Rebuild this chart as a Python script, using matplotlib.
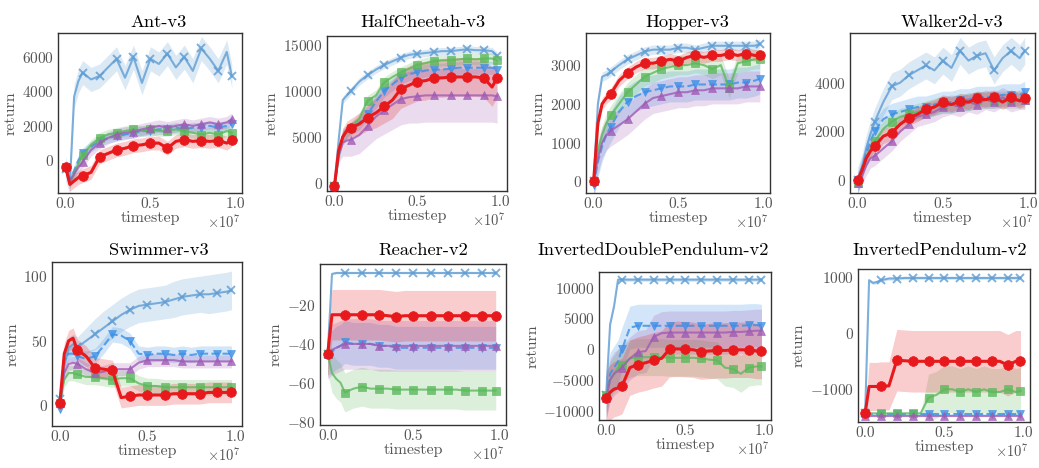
import numpy as np
import matplotlib
matplotlib.use("Agg")
import matplotlib.pyplot as plt
from matplotlib.ticker import FuncFormatter

plt.rcParams['font.family'] = 'serif'
plt.rcParams['font.serif'] = ['cmr10']
plt.rcParams['mathtext.fontset'] = 'cm'
plt.rcParams['axes.formatter.use_mathtext'] = True

# common x grid (timesteps)
timestep = np.array([0, 0.025, 0.05, 0.075, 0.1, 0.15, 0.2, 0.25, 0.3, 0.35, 0.4, 0.45,
                     0.5, 0.55, 0.6, 0.65, 0.7, 0.75, 0.8, 0.85, 0.9, 0.95, 0.98]) * 1e7
marker_idx = [0, 4, 6, 8, 10, 12, 14, 16, 18, 20, 22]

envs = ["Ant-v3", "HalfCheetah-v3", "Hopper-v3", "Walker2d-v3",
        "Swimmer-v3", "Reacher-v2", "InvertedDoublePendulum-v2", "InvertedPendulum-v2"]

# series order: blue (x), light blue (v), green (s), purple (^), red (o)
ant_mean = [
    [-500, -1300, 3700, 4600, 5100, 4700, 4900, 5400, 5900, 4800, 6000, 4500, 5900, 5600, 6200, 5400, 6000, 5200, 6500, 5900, 5200, 6300, 4900],
    [-400, -1200, -600, 0, 400, 800, 1100, 1300, 1400, 1500, 1600, 1700, 1700, 1800, 1800, 1900, 1800, 1900, 1900, 2000, 1900, 2000, 2100],
    [-400, -1300, -800, -200, 300, 900, 1300, 1500, 1600, 1700, 1800, 1700, 1800, 1700, 1700, 1800, 1700, 1600, 1500, 1600, 1500, 1700, 1600],
    [-400, -1200, -800, -400, -100, 600, 1000, 1300, 1500, 1600, 1650, 1800, 1900, 2000, 1900, 2000, 2100, 2000, 2100, 2200, 2100, 2200, 2400],
    [-400, -1400, -1200, -1000, -900, -700, 200, 400, 600, 700, 850, 900, 1000, 1000, 700, 1100, 1200, 1100, 1150, 1100, 1150, 1000, 1200],
]
ant_sd = [700, 300, 300, 350, 400]

hc_mean = [
    [-300, 4600, 9000, 9500, 10000, 11000, 11700, 12300, 12800, 13200, 13600, 13900, 14000, 14100, 14200, 14300, 14300, 14400, 14500, 14400, 14400, 14300, 13800],
    [-300, 3000, 5000, 5500, 5900, 6500, 7500, 8800, 10000, 10700, 11400, 11800, 12000, 12200, 12300, 12300, 12400, 12500, 12500, 12500, 12500, 12500, 12300],
    [-300, 3000, 5000, 5600, 6000, 7000, 8900, 9500, 10900, 11500, 12000, 12400, 12800, 13000, 13200, 13300, 13300, 13400, 13500, 13400, 13500, 13500, 13300],
    [-300, 3000, 4400, 4600, 4700, 5200, 6200, 7200, 7900, 8500, 9100, 9300, 9400, 9500, 9500, 9500, 9500, 9500, 9500, 9500, 9500, 9500, 9400],
    [-300, 3500, 5000, 5700, 6000, 6400, 7100, 7600, 8300, 9000, 10200, 10600, 11000, 11100, 11400, 11400, 11500, 11500, 11500, 11500, 11400, 10400, 11400],
]
hc_sd = [400, 700, 600,
         [0, 800, 1500, 1700, 1800, 2000, 2200, 2400, 2600, 2700, 2800, 2800, 2900, 2900, 2900, 2900, 2900, 2900, 2900, 2900, 2900, 2900, 2900],
         [0, 600, 900, 1000, 1000, 1200, 1400, 1600, 1800, 2000, 2100, 2100, 2100, 2100, 2100, 2100, 2100, 2100, 2100, 2100, 2100, 2100, 2100]]

hopper_mean = [
    [0, 2000, 2700, 2750, 2830, 3000, 3150, 3250, 3350, 3400, 3400, 3400, 3450, 3450, 3400, 3450, 3500, 3500, 3500, 3500, 3500, 3500, 3550],
    [-100, 500, 900, 1200, 1400, 1800, 2050, 2200, 2300, 2350, 2400, 2450, 2450, 2450, 2500, 2500, 2500, 2500, 2500, 2550, 2550, 2600, 2650],
    [0, 800, 1200, 1500, 1700, 2000, 2300, 2500, 2700, 2800, 2900, 2950, 3000, 3000, 3050, 3000, 2900, 3000, 2400, 3050, 3100, 3150, 3150],
    [0, 600, 1000, 1200, 1300, 1450, 1600, 1800, 2000, 2150, 2200, 2250, 2300, 2300, 2350, 2350, 2400, 2400, 2400, 2400, 2450, 2450, 2450],
    [0, 1500, 2000, 2150, 2250, 2600, 2800, 2950, 3050, 3050, 3100, 3150, 3100, 3200, 3250, 3200, 3250, 3250, 3300, 3250, 3300, 3250, 3250],
]
hopper_sd = [120, 400, 250, 400, 150]

walker_mean = [
    [0, 500, 1300, 1900, 2400, 3200, 3850, 4000, 4300, 4500, 4700, 4500, 4900, 4600, 5300, 4900, 5100, 5200, 4500, 5000, 5300, 5000, 5300],
    [-100, 500, 1100, 1600, 2000, 2500, 2700, 2800, 2900, 3000, 3000, 3100, 3200, 3200, 3300, 3300, 3400, 3400, 3400, 3500, 3500, 3500, 3600],
    [-100, 400, 900, 1300, 1600, 2100, 2400, 2600, 2700, 2800, 2900, 3000, 3100, 3100, 3200, 3200, 3300, 3300, 3300, 3300, 3300, 3300, 3300],
    [-100, 200, 600, 900, 1000, 1300, 1600, 2000, 2300, 2600, 2700, 2800, 3000, 3100, 3000, 3200, 3100, 3300, 3200, 3400, 3200, 3300, 3300],
    [0, 400, 900, 1200, 1400, 1800, 1950, 2300, 2550, 2700, 2900, 3000, 3200, 3100, 3250, 3200, 3350, 3300, 3400, 3200, 3400, 3250, 3350],
]
walker_sd = [550, 450, 350, 400, 300]

swimmer_mean = [
    [5, 30, 45, 47, 45, 50, 55, 60, 65, 70, 74, 77, 78, 79, 80, 82, 84, 85, 86, 86, 87, 88, 89],
    [-3, 35, 40, 40, 38, 36, 38, 46, 55, 54, 50, 40, 39, 40, 40, 39, 40, 39, 40, 40, 40, 40, 40],
    [2, 20, 25, 25, 24, 22, 22, 21, 20, 21, 21, 17, 15, 15, 14, 14, 14, 14, 14, 14, 14, 14, 14],
    [2, 25, 32, 33, 32, 28, 25, 26, 28, 28, 28, 33, 35, 35, 35, 35, 34, 34, 34, 34, 34, 34, 34],
    [2, 40, 50, 52, 43, 38, 29, 28, 27, 6, 7, 8, 8, 8, 8, 9, 9, 9, 9, 10, 10, 10, 10],
]
swimmer_sd = [[2, 6, 8, 8, 8, 10, 12, 13, 13, 13, 13, 13, 13, 13, 13, 14, 14, 14, 14, 15, 15, 15, 15],
              6, 6, 5, 8]

reacher_mean = [
    [-45, -4, -3.5, -3.5, -3.5, -3.5, -3.5, -3.5, -3.5, -3.5, -3.5, -3.5, -3.5, -3.5, -3.5, -3.5, -3.5, -3.5, -3.5, -3.5, -3.5, -3.5, -3.5],
    [-45, -44, -42, -41, -39, -40, -40, -40, -41, -41, -42, -42, -42, -42, -42, -42, -42, -42, -42, -42, -42, -42, -42],
    [-45, -55, -58, -60, -65, -63, -62, -63, -63, -63, -63.5, -63.5, -63.5, -63.5, -63.5, -63.5, -63.5, -63.5, -64, -64, -64, -64, -64],
    [-45, -43, -42, -41, -40, -40, -40, -40, -41, -41, -41, -41, -41, -41, -41, -41, -41, -41, -41, -41, -41, -41, -41],
    [-45, -25, -25, -25, -25, -25, -25, -25, -25, -25.5, -26, -25.5, -25.5, -25.5, -25.5, -25.5, -25.5, -25.5, -25.5, -25.5, -25.5, -25.5, -25.5],
]
reacher_sd = [0.5, 11, 10, 13, 13]

idp_mean = [
    [-7500, 4000, 7000, 11300, 11300, 11300, 11300, 11300, 11300, 11300, 11300, 11300, 11300, 11300, 11300, 11300, 11300, 11300, 11300, 11300, 11300, 11300, 11300],
    [-8000, -4000, -3000, -2000, 0, 3500, 3800, 3800, 3800, 3800, 3800, 3800, 3800, 3800, 3800, 3800, 3800, 3800, 3800, 3800, 3900, 3900, 3800],
    [-7500, -5000, -4000, -3000, -2500, -1500, -1300, -1300, -1300, -1300, -1400, -1400, -1400, -1400, -1500, -1700, -1800, -3000, -3200, -4000, -3000, -2800, -2800],
    [-8000, -5000, -4000, -3500, -3000, -1500, -500, -300, 2000, 2600, 2700, 2700, 2700, 2700, 2700, 2700, 2700, 2700, 2800, 2800, 2900, 3000, 3000],
    [-8000, -7000, -6500, -6300, -6000, -3000, -2500, -2200, -1800, -1500, 0, 50, 0, -100, -400, -300, -200, -200, -100, -100, -100, -300, -300],
]
idp_sd = [300, 3500, 3000, 3500, 4500]

ip_mean = [
    [-1430, 950, 900, 920, 950, 980, 980, 990, 990, 990, 990, 990, 990, 990, 990, 990, 990, 990, 990, 990, 990, 990, 990],
    [-1450, -1450, -1450, -1450, -1450, -1450, -1450, -1450, -1450, -1450, -1450, -1450, -1450, -1450, -1450, -1450, -1450, -1450, -1450, -1450, -1450, -1450, -1450],
    [-1430, -1430, -1430, -1430, -1430, -1430, -1430, -1430, -1430, -1430, -1150, -1100, -1000, -1000, -1050, -1000, -1050, -1000, -1050, -1050, -1000, -1050, -1030],
    [-1470, -1470, -1470, -1470, -1470, -1470, -1470, -1470, -1470, -1470, -1470, -1470, -1470, -1470, -1470, -1470, -1470, -1470, -1470, -1470, -1470, -1470, -1470],
    [-1430, -950, -950, -950, -940, -940, -480, -490, -500, -500, -500, -500, -500, -500, -500, -500, -500, -500, -500, -500, -570, -500, -500],
]
ip_sd = [30, 10,
         [0, 0, 0, 0, 0, 0, 0, 0, 0, 0, 420, 420, 420, 420, 420, 420, 420, 420, 420, 420, 420, 420, 420],
         10,
         [0, 430, 430, 430, 430, 430, 550, 550, 550, 550, 550, 550, 550, 550, 550, 550, 550, 550, 550, 550, 550, 550, 550]]

all_mean = [ant_mean, hc_mean, hopper_mean, walker_mean, swimmer_mean, reacher_mean, idp_mean, ip_mean]
all_sd = [ant_sd, hc_sd, hopper_sd, walker_sd, swimmer_sd, reacher_sd, idp_sd, ip_sd]

ylims = [(-1900, 7400), (-870, 15940), (-303, 3830), (-520, 6030),
         (-16, 111), (-81.7, 1.1), (-11510, 12540), (-1585, 1150)]
yticks = [[0, 2000, 4000, 6000], [0, 5000, 10000, 15000], [0, 1000, 2000, 3000], [0, 2000, 4000],
          [0, 50, 100], [-80, -60, -40, -20], [-10000, -5000, 0, 5000, 10000], [-1000, 0, 1000]]

# axes boxes in pixels: left, top, right, bottom
boxes = [(58, 33, 242, 193), (327, 36, 507, 191), (586, 33, 770, 193), (850, 33, 1035, 193),
         (52, 262, 242, 426), (320, 264, 506, 425), (599, 272, 771, 420), (858, 269, 1030, 422)]
# title centre x and baseline y in pixels
title_pos = [(159, 27), (423, 27), (687, 27), (952, 27),
             (159, 255), (423, 255), (653, 255), (940, 255)]

colors = ['#5e9cd3', '#3b8fe6', '#5cb85c', '#a05cb5', '#e8191c']
markers = ['x', 'v', 's', '^', 'o']
lstyles = ['-', '--', '-', '-', '-']

W, H = 1039, 468
fig = plt.figure(figsize=(W / 100, H / 100), dpi=100)

for k in range(8):
    l, t, r, b = boxes[k]
    ax = fig.add_axes([l / W, 1 - b / H, (r - l) / W, (b - t) / H])
    for i in range(5):
        m = np.array(all_mean[k][i], dtype=float)
        sd = np.broadcast_to(np.array(all_sd[k][i], dtype=float), m.shape)
        is_red = (i == 4)
        ax.fill_between(timestep, m - sd, m + sd, color=colors[i], alpha=0.22, lw=0,
                        zorder=1 + i * 0.1)
        ax.plot(timestep, m, color=colors[i], ls=lstyles[i], marker=markers[i],
                markevery=marker_idx, lw=2.2 if is_red else 1.5,
                ms=7 if is_red else 5.5, mew=1.4 if i == 0 else 0.5,
                alpha=1.0 if is_red else 0.8, zorder=5 if is_red else 3)
    ax.set_xlim(-0.045e7, 1.04e7)
    ax.set_ylim(*ylims[k])
    ax.set_xticks([0, 0.5e7, 1.0e7])
    ax.set_yticks(yticks[k])
    ax.xaxis.set_major_formatter(FuncFormatter(lambda v, p: f"{v / 1e7:.1f}"))
    ax.tick_params(length=0, labelsize=11, labelcolor='#555555', pad=3)
    for s in ax.spines.values():
        s.set_color('#333333')
        s.set_linewidth(1.0)
    ax.set_xlabel('timestep', fontsize=11.5, color='#555555', labelpad=0)
    ax.set_ylabel('return', fontsize=11.5, color='#555555', labelpad=3)
    # scale factor under the right end of the x axis
    ax.annotate(r'$\times10^{7}$', xy=(1, 0), xycoords='axes fraction',
                xytext=(-1, -20), textcoords='offset pixels',
                ha='right', va='top', fontsize=10.5, color='#555555')
    tx, ty = title_pos[k]
    fig.text(tx / W, 1 - ty / H, envs[k], fontsize=13.3, ha='center', va='baseline')

fig.savefig('out.png', dpi=100)
